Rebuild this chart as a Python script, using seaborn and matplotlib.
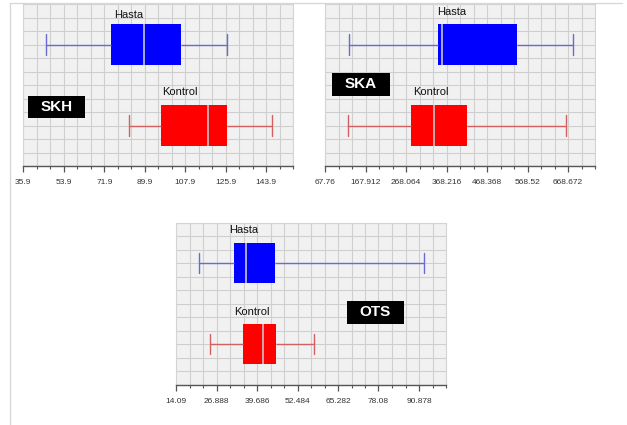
import numpy as np
import pandas as pd
import matplotlib
matplotlib.use("Agg")
import matplotlib.pyplot as plt
from matplotlib.patches import Rectangle
from matplotlib.lines import Line2D
from matplotlib.ticker import FixedLocator
import seaborn as sns

# ---------------- data (five-number summaries) -------------
groups = ["Hasta", "Kontrol"]

skh_hasta = [45.9, 74.9, 89.5, 106.0, 126.6]
skh_kontrol = [82.9, 97.0, 117.9, 126.4, 146.3]

ska_hasta = [127.1, 346.4, 357.9, 541.8, 681.8]
ska_kontrol = [123.9, 281.2, 337.3, 418.2, 663.0]

ots_hasta = [21.4, 32.4, 36.3, 45.4, 92.5]
ots_kontrol = [24.9, 35.4, 41.5, 45.8, 57.7]

skh_ticks = [35.9, 53.9, 71.9, 89.9, 107.9, 125.9, 143.9]
skh_ticklabels = ["35.9", "53.9", "71.9", "89.9", "107.9", "125.9", "143.9"]
ska_ticks = [67.76, 167.912, 268.064, 368.216, 468.368, 568.52, 668.672]
ska_ticklabels = ["67.76", "167.912", "268.064", "368.216", "468.368", "568.52", "668.672"]
ots_ticks = [14.09, 26.888, 39.686, 52.484, 65.282, 78.08, 90.878]
ots_ticklabels = ["14.09", "26.888", "39.686", "52.484", "65.282", "78.08", "90.878"]

panel_names = ["SKH", "SKA", "OTS"]

# ---------------- style ----------------
sns.set_theme(style="white")
plt.rcParams["font.family"] = ["Liberation Sans", "DejaVu Sans"]

W, H = 627, 425
fig = plt.figure(figsize=(W / 100, H / 100), dpi=100)
fig.patch.set_facecolor("white")

box_colors = {"Hasta": "#0000ff", "Kontrol": "#ff0000"}
line_colors = {"Hasta": "#6a6ad2", "Kontrol": "#d26060"}


def px_axes(left, top, right, bottom):
    return fig.add_axes([left / W, 1 - bottom / H, (right - left) / W, (bottom - top) / H])


def draw_panel(ax, hasta, kontrol, ticks, ticklabels):
    df = pd.DataFrame({
        "value": list(hasta) + list(kontrol),
        "group": [groups[0]] * len(hasta) + [groups[1]] * len(kontrol),
    })
    for g in groups:
        sub = df[df["group"] == g]
        sns.boxplot(
            data=sub, x="value", y="group", order=groups, orient="h",
            color=box_colors[g], saturation=1, width=0.5, whis=(0, 100),
            linewidth=1, showfliers=False, ax=ax,
            boxprops=dict(facecolor=box_colors[g], edgecolor="none", linewidth=0),
            medianprops=dict(color="#c4c4cc", linewidth=1.2),
            whiskerprops=dict(color=line_colors[g], linewidth=1),
            capprops=dict(color=line_colors[g], linewidth=1),
        )
    step = ticks[1] - ticks[0]
    minor = step / 3
    x0 = ticks[0]
    x1 = x0 + 20 * minor
    ax.set_xlim(x0, x1)
    ax.set_ylim(1.5, -0.5)
    ax.set_xlabel("")
    ax.set_ylabel("")
    ax.set_facecolor("#f1f1f1")

    ax.xaxis.set_major_locator(FixedLocator(ticks))
    ax.set_xticklabels(ticklabels)
    ax.xaxis.set_minor_locator(FixedLocator([x0 + k * minor for k in range(21)]))
    rows = [-0.5 + k / 6 for k in range(13)]
    ax.set_yticks(rows)
    ax.set_yticklabels([])
    ax.tick_params(axis="y", length=0)
    ax.tick_params(axis="x", which="major", length=4, width=0.9, color="#555555",
                   direction="out", labelsize=6, labelcolor="#333333", pad=5.4, bottom=True)
    ax.tick_params(axis="x", which="minor", length=2, width=0.8, color="#555555",
                   direction="out", bottom=True)
    ax.grid(True, which="both", axis="x", color="#cfcfcf", linewidth=0.8)
    ax.grid(True, which="major", axis="y", color="#cfcfcf", linewidth=0.8)
    ax.set_axisbelow(True)
    for s in ["top", "right", "left"]:
        ax.spines[s].set_color("#d4d4d4")
        ax.spines[s].set_linewidth(0.8)
    ax.spines["bottom"].set_color("#555555")
    ax.spines["bottom"].set_linewidth(1.0)
    legend = ax.get_legend()
    if legend is not None:
        legend.remove()


ax1 = px_axes(23.3, 4, 293.3, 166)
draw_panel(ax1, skh_hasta, skh_kontrol, skh_ticks, skh_ticklabels)
ax2 = px_axes(325, 4, 595, 166)
draw_panel(ax2, ska_hasta, ska_kontrol, ska_ticks, ska_ticklabels)
ax3 = px_axes(176, 222.5, 446, 384.5)
draw_panel(ax3, ots_hasta, ots_kontrol, ots_ticks, ots_ticklabels)


def ftext(x, y, s, **kw):
    fig.text(x / W, 1 - y / H, s, ha="center", va="center", **kw)


# group labels
lab_kw = dict(fontsize=8, color="#111111")
ftext(129, 15.5, groups[0], **lab_kw)
ftext(180, 92, groups[1], **lab_kw)
ftext(451.7, 12, groups[0], **lab_kw)
ftext(430.7, 91.7, groups[1], **lab_kw)
ftext(243.3, 230, groups[0], **lab_kw)
ftext(252.3, 311.7, groups[1], **lab_kw)

# black name boxes
name_boxes = [(28, 96, 85, 118), (332, 73, 390, 96), (347, 301, 404, 324)]
for name, (l, t, r, b) in zip(panel_names, name_boxes):
    fig.add_artist(Rectangle((l / W, 1 - b / H), (r - l) / W, (b - t) / H,
                             transform=fig.transFigure, facecolor="black",
                             edgecolor="none", zorder=5))
    fig.text((l + r) / 2 / W, 1 - (t + b) / 2 / H, name, ha="center", va="center",
             color="white", fontsize=11, fontweight="bold", zorder=6)

# faint page borders
fig.add_artist(Line2D([10 / W, 10 / W], [1 - 2.5 / H, 0], transform=fig.transFigure,
                      color="#d6d6d6", linewidth=0.9))
fig.add_artist(Line2D([10 / W, 622 / W], [1 - 2.5 / H, 1 - 2.5 / H],
                      transform=fig.transFigure, color="#d6d6d6", linewidth=0.9))

fig.savefig("out.png", dpi=100)
